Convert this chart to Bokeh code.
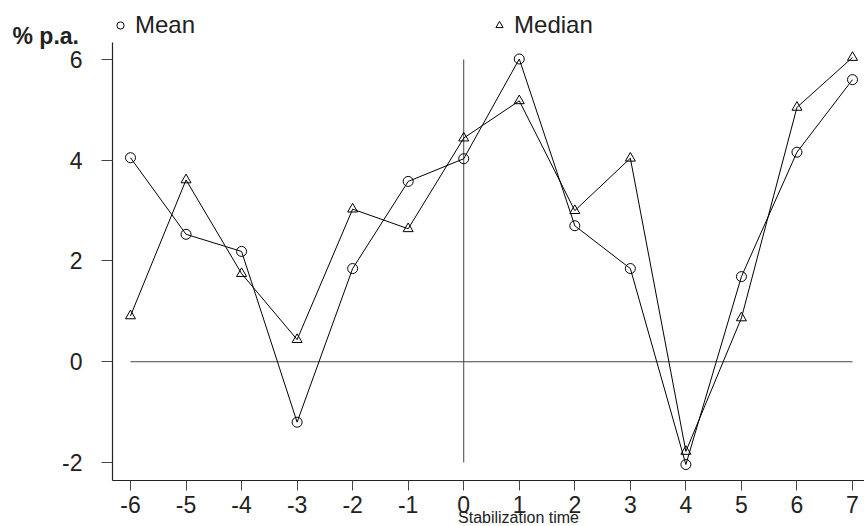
from bokeh.plotting import figure
from bokeh.models import Range1d, FixedTicker, Legend, LegendItem, Label, NumeralTickFormatter
from bokeh.embed import file_html
from bokeh.resources import INLINE

# ---- data ----
periods = [-6, -5, -4, -3, -2, -1, 0, 1, 2, 3, 4, 5, 6, 7]
mean_vals = [4.05, 2.53, 2.19, -1.20, 1.85, 3.58, 4.03, 6.01, 2.70, 1.85, -2.04, 1.69, 4.16, 5.60]
median_vals = [0.91, 3.61, 1.75, 0.44, 3.03, 2.64, 4.44, 5.18, 3.00, 4.04, -1.78, 0.87, 5.05, 6.04]
y_ticks = [-2, 0, 2, 4, 6]
x_ticks = periods
y_unit = "% p.a."
x_title = "Stabilization time"
series_names = ["Mean", "Median"]

FONT = "Liberation Sans"
INK = "#222222"

# frame covers the whole canvas; axes are pinned with fixed_location
X0, X1 = -8.3406, 7.216
Y0, Y1 = -3.2705, 7.1712
X_AXIS_AT = -2.3573   # where the x axis line sits
Y_AXIS_AT = -6.324    # where the y axis line sits
Y_AXIS_TOP = 6.337

p = figure(width=864, height=526, output_backend="svg", toolbar_location=None,
           x_range=Range1d(X0, X1), y_range=Range1d(Y0, Y1), min_border=0)
p.outline_line_color = None
p.xgrid.visible = False
p.ygrid.visible = False
p.background_fill_color = "white"
p.border_fill_color = "white"

for ax in (p.xaxis[0], p.yaxis[0]):
    ax.axis_line_color = INK
    ax.axis_line_width = 1.2
    ax.major_tick_line_color = "#444444"
    ax.major_tick_line_width = 1
    ax.major_tick_in = 0
    ax.minor_tick_line_color = None
    ax.major_label_text_font = FONT
    ax.major_label_text_font_size = "23px"
    ax.major_label_text_color = INK
    ax.formatter = NumeralTickFormatter(format="0")

p.xaxis.ticker = FixedTicker(ticks=x_ticks)
p.xaxis.major_tick_out = 10
p.xaxis.major_label_standoff = 6
p.xaxis.fixed_location = X_AXIS_AT
p.xaxis.bounds = (Y_AXIS_AT, X1)

p.yaxis.ticker = FixedTicker(ticks=y_ticks)
p.yaxis.major_tick_out = 11
p.yaxis.major_label_standoff = 19
p.yaxis.fixed_location = Y_AXIS_AT
p.yaxis.bounds = (X_AXIS_AT, Y_AXIS_TOP)

# reference lines
p.segment(x0=[min(periods)], y0=[0], x1=[max(periods)], y1=[0], line_color="#444444", line_width=1)
p.segment(x0=[0], y0=[min(y_ticks)], x1=[0], y1=[max(y_ticks)], line_color="#444444", line_width=1)

# series
p.line(periods, mean_vals, line_color="black", line_width=1)
r_mean = p.scatter(periods, mean_vals, marker="circle", size=10, fill_alpha=0,
                   line_color="black", line_width=1)
p.line(periods, median_vals, line_color="black", line_width=1)
r_med = p.scatter(periods, median_vals, marker="triangle", size=10, fill_alpha=0,
                  line_color="black", line_width=1)

legend = Legend(items=[LegendItem(label=series_names[0], renderers=[r_mean]),
                       LegendItem(label=series_names[1], renderers=[r_med])],
                orientation="horizontal", location=(111, 487),
                glyph_width=18, glyph_height=18, label_standoff=6, spacing=295,
                padding=0, margin=0, border_line_color=None,
                background_fill_alpha=0,
                label_text_font=FONT, label_text_font_size="24px", label_text_color=INK)
p.add_layout(legend, "center")

p.add_layout(Label(x=12, y=491, x_units="screen", y_units="screen", text=y_unit,
                   text_font=FONT, text_font_size="23px", text_font_style="bold",
                   text_color=INK, text_baseline="alphabetic", text_align="left"))
p.add_layout(Label(x=518, y=9, x_units="screen", y_units="screen", text=x_title,
                   text_font=FONT, text_font_size="16px",
                   text_color=INK, text_baseline="alphabetic", text_align="center"))

open("out.html", "w").write(file_html(p, INLINE))
